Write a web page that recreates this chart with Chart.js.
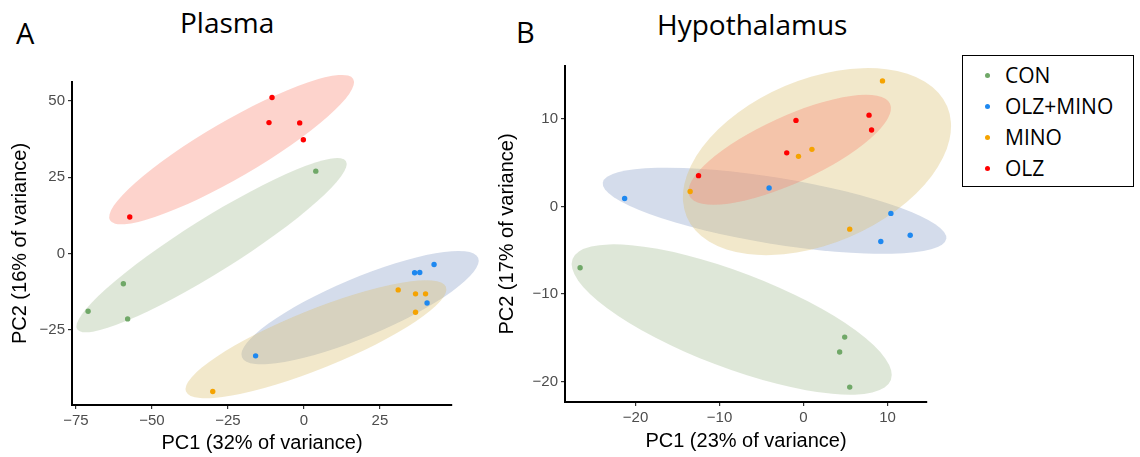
<!DOCTYPE html>
<html>
<head>
<meta charset="utf-8">
<script src="https://cdn.jsdelivr.net/npm/chart.js@4.4.1/dist/chart.umd.min.js"></script>
<style>
  body { margin: 0; background: #fff; width: 1140px; height: 457px; position: relative; overflow: hidden; }
  .panel { position: absolute; top: 0; height: 457px; }
  .lbl { position: absolute; font-family: 'Open Sans', sans-serif; color: #000; line-height: 28px; white-space: nowrap; }
  #legend { position: absolute; left: 962px; top: 55px; width: 172px; height: 132px; border: 1.5px solid #000; box-sizing: border-box; font-family: 'Open Sans', sans-serif; font-size: 21px; }
  #legend div { position: absolute; left: 42px; line-height: 24px; }
  #legend span { position: absolute; left: -20px; top: 10px; width: 5px; height: 5px; border-radius: 50%; }
</style>
</head>
<body>
<div class="lbl" style="left:16px; top:19px; font-size:29px;">A</div>
<div class="lbl" style="left:180px; top:8px; font-size:28px;">Plasma</div>
<div class="lbl" style="left:516px; top:18px; font-size:29px;">B</div>
<div class="lbl" style="left:657px; top:10px; font-size:28px;">Hypothalamus</div>
<div class="panel" style="left:0; width:500px;"><canvas id="plasma" width="500" height="457"></canvas></div>
<div class="panel" style="left:470px; width:490px;"><canvas id="hypo" width="490" height="457"></canvas></div>
<div id="legend"></div>
<script>
// group names and colours
const groups = ['CON', 'OLZ+MINO', 'MINO', 'OLZ'];
const dotColors = ['#70a868', '#1e88f0', '#f5a300', '#ff0000'];
const fillColors = ['rgba(160,186,142,0.35)', 'rgba(135,158,200,0.36)', 'rgba(220,190,110,0.36)', 'rgba(250,130,110,0.35)'];

// Plasma PCA scores [PC1, PC2]
const plasmaCON = [[3.9, 27.0], [-59.4, -9.9], [-71.0, -18.9], [-58.0, -21.4]];
const plasmaOLZMINO = [[42.8, -3.6], [36.4, -6.3], [38.1, -6.2], [40.5, -16.2], [-15.9, -33.5]];
const plasmaMINO = [[31.0, -11.9], [36.7, -13.2], [40.0, -13.2], [36.7, -19.2], [-30.0, -45.2]];
const plasmaOLZ = [[-10.5, 51.1], [-11.5, 42.9], [-1.4, 42.8], [-0.2, 37.3], [-57.3, 12.0]];

// Hypothalamus PCA scores [PC1, PC2]
const hypoCON = [[-26.6, -7.0], [4.9, -14.9], [4.3, -16.6], [5.5, -20.6]];
const hypoOLZMINO = [[-21.3, 0.9], [-4.1, 2.1], [10.4, -0.8], [9.2, -4.0], [12.7, -3.3]];
const hypoMINO = [[9.4, 14.3], [1.0, 6.5], [-0.6, 5.7], [-13.5, 1.7], [5.5, -2.6]];
const hypoOLZ = [[-0.9, 9.8], [7.8, 10.4], [8.1, 8.7], [-2.0, 6.1], [-12.5, 3.5]];

// ellipses: major-axis end points [x1, y1, x2, y2] and minor/major ratio
const plasmaEllipseCON = [-74.6, -24.8, 13.8, 30.3, 0.17];
const plasmaEllipseOLZMINO = [-20.4, -34.0, 57.3, -1.4, 0.23];
const plasmaEllipseMINO = [-38.8, -45.2, 46.7, -10.9, 0.21];
const plasmaEllipseOLZ = [-63.8, 10.9, 16.2, 57.2, 0.2];
const hypoEllipseCON = [-27.5, -6.0, 10.4, -19.8, 0.28];
const hypoEllipseOLZMINO = [-23.9, 2.7, 17.0, -3.7, 0.19];
const hypoEllipseMINO = [-13.9, -1.2, 17.1, 11.4, 0.58];
const hypoEllipseOLZ = [-13.6, 1.2, 10.3, 11.7, 0.3];

// axis ranges and ticks
const plasmaXRange = [-76.3, 48.7], plasmaYRange = [-49.6, 56.2];
const plasmaXTicks = [-75, -50, -25, 0, 25], plasmaYTicks = [-25, 0, 25, 50];
const hypoXRange = [-28.4, 14.7], hypoYRange = [-22.3, 16.0];
const hypoXTicks = [-20, -10, 0, 10], hypoYTicks = [-20, -10, 0, 10];

// legend
const legend = document.getElementById('legend');
groups.forEach((g, i) => {
  const row = document.createElement('div');
  row.style.top = (7 + i * 31) + 'px';
  row.innerHTML = '<span style="background:' + dotColors[i] + '"></span>' + g;
  legend.appendChild(row);
});

const ellipsePlugin = {
  id: 'ellipses',
  beforeDatasetsDraw(chart, args, opts) {
    const {ctx} = chart;
    const xs = chart.scales.x, ys = chart.scales.y;
    opts.list.forEach((e, i) => {
      const x1 = xs.getPixelForValue(e[0]), y1 = ys.getPixelForValue(e[1]);
      const x2 = xs.getPixelForValue(e[2]), y2 = ys.getPixelForValue(e[3]);
      const a = Math.hypot(x2 - x1, y2 - y1) / 2;
      ctx.save();
      ctx.beginPath();
      ctx.ellipse((x1 + x2) / 2, (y1 + y2) / 2, a, a * e[4], Math.atan2(y2 - y1, x2 - x1), 0, Math.PI * 2);
      ctx.fillStyle = fillColors[i];
      ctx.fill();
      ctx.restore();
    });
  }
};

const fmt = v => (v < 0 ? '\u2212' + Math.abs(v) : String(v));

function axis(range, ticks, title, fitSize, isX, titlePad) {
  return {
    type: 'linear',
    min: range[0],
    max: range[1],
    afterBuildTicks: s => { s.ticks = ticks.map(v => ({value: v})); },
    afterFit: s => { if (isX) s.height = fitSize; else s.width = fitSize; },
    border: {display: true, color: '#000', width: 2},
    grid: {display: true, drawOnChartArea: false, drawTicks: true, tickLength: 4, color: '#333', lineWidth: 1.2},
    ticks: {color: '#4d4d4d', font: {size: 15}, padding: 3, callback: fmt, maxRotation: 0},
    title: {display: true, text: title, color: '#000', font: {size: 20}, padding: titlePad}
  };
}

function makeChart(id, sets, ellipses, xr, yr, xt, yt, xTitle, yTitle, pad, xFit, yFit, yTitlePad, xTitlePad) {
  new Chart(document.getElementById(id), {
    type: 'scatter',
    data: {
      datasets: sets.map((pts, i) => ({
        label: groups[i],
        data: pts.map(p => ({x: p[0], y: p[1]})),
        backgroundColor: dotColors[i],
        borderWidth: 0,
        pointRadius: 2.7,
        clip: false
      }))
    },
    options: {
      responsive: false,
      animation: false,
      devicePixelRatio: 1,
      layout: {padding: pad},
      plugins: {legend: {display: false}, tooltip: {enabled: false}, ellipses: {list: ellipses}},
      scales: {
        x: axis(xr, xt, xTitle, xFit, true, xTitlePad),
        y: axis(yr, yt, yTitle, yFit, false, yTitlePad)
      }
    },
    plugins: [ellipsePlugin]
  });
}

Chart.defaults.font.family = "'Liberation Sans', Arial, sans-serif";

makeChart('plasma',
  [plasmaCON, plasmaOLZMINO, plasmaMINO, plasmaOLZ],
  [plasmaEllipseCON, plasmaEllipseOLZMINO, plasmaEllipseMINO, plasmaEllipseOLZ],
  plasmaXRange, plasmaYRange, plasmaXTicks, plasmaYTicks,
  'PC1 (32% of variance)', 'PC2 (16% of variance)',
  {left: 0, right: 48, top: 82, bottom: 0}, 52, 72, {top: 8}, {bottom: 2});

makeChart('hypo',
  [hypoCON, hypoOLZMINO, hypoMINO, hypoOLZ],
  [hypoEllipseCON, hypoEllipseOLZMINO, hypoEllipseMINO, hypoEllipseOLZ],
  hypoXRange, hypoYRange, hypoXTicks, hypoYTicks,
  'PC1 (23% of variance)', 'PC2 (17% of variance)',
  {left: 0, right: 33, top: 66, bottom: 0}, 55, 95, {top: 25}, {bottom: 4});
</script>
</body>
</html>
